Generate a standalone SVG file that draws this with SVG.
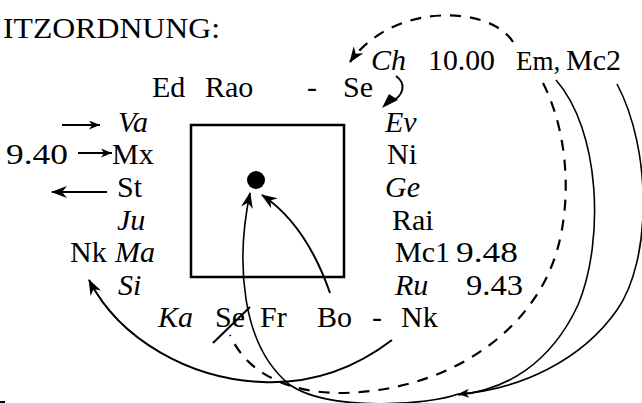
<svg xmlns="http://www.w3.org/2000/svg" width="642" height="403" viewBox="0 0 642 403">
<style>
.t text{font-family:Liberation Serif, Times New Roman, Times, DejaVu Serif, serif;font-size:30px;fill:#000}
.i{font-style:italic}
.ln{fill:none;stroke:#000;stroke-width:2}
.th{fill:none;stroke:#000;stroke-width:1.6}
.ds{fill:none;stroke:#000;stroke-width:2.2;stroke-dasharray:11 9}
</style>
<defs>
<marker id="ah" markerUnits="userSpaceOnUse" markerWidth="16" markerHeight="12" viewBox="0 0 16 12" refX="15" refY="6" orient="auto"><path d="M0,0 L16,6 L0,12 L5,6 z" fill="#000"/></marker>
<marker id="sm" markerUnits="userSpaceOnUse" markerWidth="11" markerHeight="9" viewBox="0 0 11 9" refX="11" refY="4.5" orient="auto"><path d="M0,0 L11,4.5 L0,9 L3,4.5 z" fill="#000"/></marker>
</defs>
<rect x="0" y="401" width="5" height="2" fill="#000"/>
<g class="t">
<g id="title"><text x="3" y="38" textLength="217" lengthAdjust="spacingAndGlyphs">ITZORDNUNG:</text></g>
<g id="top">
<text class="i" x="371" y="70">Ch</text>
<text x="428" y="70" textLength="67" lengthAdjust="spacingAndGlyphs">10.00</text>
<text x="516" y="70" style="font-size:27px">Em,</text>
<text x="566" y="70">Mc2</text>
<text x="152" y="97">Ed</text>
<text x="205" y="97">Rao</text>
<text x="307" y="97">-</text>
<text x="343" y="97">Se</text>
</g>
<g id="left">
<text class="i" x="118" y="132">Va</text>
<text x="6" y="164" textLength="62" lengthAdjust="spacingAndGlyphs">9.40</text>
<text x="112" y="164">Mx</text>
<text x="117" y="197">St</text>
<text class="i" x="117" y="230">Ju</text>
<text x="70" y="262">Nk</text>
<text class="i" x="115" y="262">Ma</text>
<text class="i" x="118" y="295">Si</text>
</g>
<g id="right">
<text class="i" x="385" y="132">Ev</text>
<text x="387" y="164">Ni</text>
<text class="i" x="385" y="197">Ge</text>
<text x="392" y="230">Rai</text>
<text x="395" y="262">Mc1</text>
<text x="456" y="262" textLength="62" lengthAdjust="spacingAndGlyphs">9.48</text>
<text class="i" x="395" y="295">Ru</text>
<text x="466" y="295" textLength="57" lengthAdjust="spacingAndGlyphs">9.43</text>
</g>
<g id="bottom">
<text class="i" x="158" y="327">Ka</text>
<text x="215" y="327">Se</text>
<text x="260" y="327">Fr</text>
<text x="317" y="327">Bo</text>
<text x="372" y="327">-</text>
<text x="401" y="327">Nk</text>
</g>
</g>
<g id="box"><rect x="191" y="125" width="153" height="152" fill="none" stroke="#000" stroke-width="2.5"/><circle cx="256" cy="180" r="9" fill="#000"/></g>
<g id="connectors">
<line class="ln" x1="62" y1="125" x2="100" y2="125" marker-end="url(#sm)"/>
<line class="ln" x1="78" y1="153" x2="112" y2="153" marker-end="url(#sm)"/>
<line class="ln" x1="107" y1="192" x2="52" y2="192" marker-end="url(#ah)"/>
<path class="ds" d="M513,42 C490,5 392,2 350,62" marker-end="url(#ah)"/>
<path class="ln" d="M396,76 C407,84 403,96 392,101" />
<path d="M382,108 L389,94 L398,100 Z" fill="#000"/>
<line class="ln" x1="213" y1="343" x2="250" y2="307"/>
<path class="ln" d="M330,293 C315,250 292,215 262,195" marker-end="url(#ah)"/>
<path class="ln" d="M392,340 C350,372 305,384 262,382 C190,379 120,340 89,280" marker-end="url(#ah)"/>
<path class="ds" d="M543,83 C572,140 572,220 550,270 C520,340 440,392 340,393 C300,393 250,380 230,335"/>
<path class="th" d="M556,80 C600,130 605,240 578,305 C550,365 505,390 458,395"/>
<path class="th" d="M617,84 C652,150 652,260 617,310 C582,360 520,390 458,394" marker-end="url(#sm)"/>
<path class="th" d="M458,394 C430,405 330,412 290,385 C240,345 236,260 250,193" marker-end="url(#ah)"/>
</g>
</svg>
